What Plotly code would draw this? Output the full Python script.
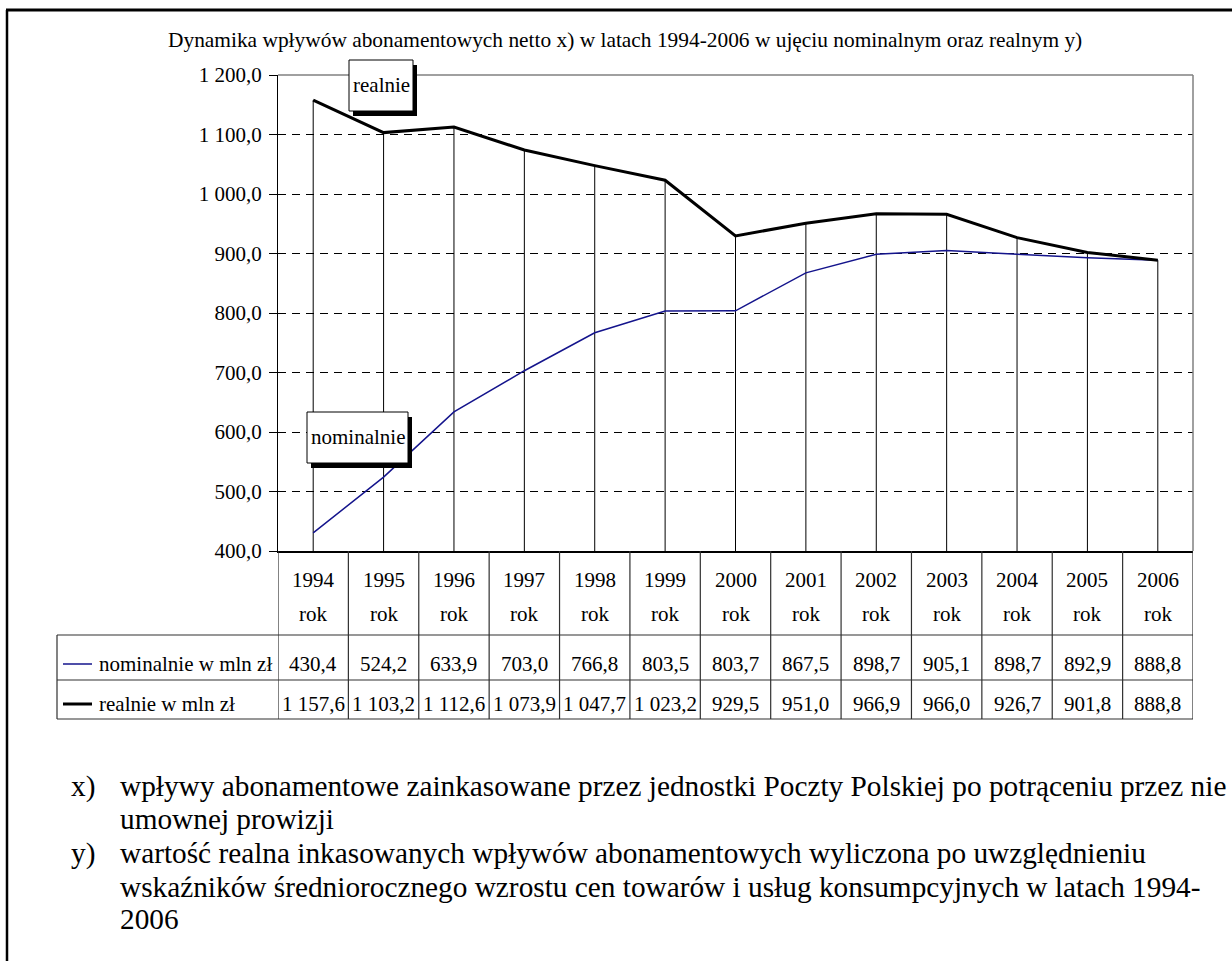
import plotly.graph_objects as go

years = ["1994", "1995", "1996", "1997", "1998", "1999", "2000",
         "2001", "2002", "2003", "2004", "2005", "2006"]
nominalnie = [430.4, 524.2, 633.9, 703.0, 766.8, 803.5, 803.7,
              867.5, 898.7, 905.1, 898.7, 892.9, 888.8]
realnie = [1157.6, 1103.2, 1112.6, 1073.9, 1047.7, 1023.2, 929.5,
           951.0, 966.9, 966.0, 926.7, 901.8, 888.8]
row_labels = ["nominalnie w mln zł", "realnie w mln zł"]
title = ("Dynamika wpływów abonamentowych netto x) w latach 1994-2006 "
         "w ujęciu nominalnym oraz realnym y)")
notes = [
    ("x)", ["wpływy abonamentowe zainkasowane przez jednostki Poczty Polskiej po potrąceniu przez nie",
            "umownej prowizji"]),
    ("y)", ["wartość realna inkasowanych wpływów abonamentowych wyliczona po uwzględnieniu",
            "wskaźników średniorocznego wzrostu cen towarów i usług konsumpcyjnych w latach 1994-",
            "2006"]),
]

W, H = 1232, 961
FONT = "Liberation Serif, Times New Roman, serif"
NAVY = "#14148c"


def px(x):
    return x / W


def py(y):
    return 1 - y / H


def fmt(v):
    return f"{v:,.1f}".replace(",", " ").replace(".", ",")


def label(x, y, text, font, xref="paper", xanchor="center"):
    return dict(xref=xref, yref="paper", x=x, y=py(y), text=text, showarrow=False,
                xanchor=xanchor, yanchor="middle", font=font)


fig = go.Figure()

# drop lines from the higher series down to the axis
drop_x, drop_y = [], []
for i, yr in enumerate(years):
    drop_x += [yr, yr, None]
    drop_y += [max(realnie[i], nominalnie[i]), 400, None]
fig.add_trace(go.Scatter(x=drop_x, y=drop_y, mode="lines",
                         line=dict(color="black", width=1), hoverinfo="skip"))

fig.add_trace(go.Scatter(x=years, y=nominalnie, mode="lines", name="nominalnie",
                         line=dict(color=NAVY, width=1.5)))
fig.add_trace(go.Scatter(x=years, y=realnie, mode="lines", name="realnie",
                         line=dict(color="black", width=3)))

shapes = []
ann = []

# plot frame (top / right in grey)
shapes.append(dict(type="line", xref="paper", yref="paper", x0=px(278), x1=px(1193),
                   y0=py(75), y1=py(75), line=dict(color="#808080", width=1.5)))
shapes.append(dict(type="line", xref="paper", yref="paper", x0=px(1193), x1=px(1193),
                   y0=py(75), y1=py(551), line=dict(color="#808080", width=1.5)))

# page frame
shapes.append(dict(type="line", xref="paper", yref="paper", x0=px(6), x1=1,
                   y0=py(10), y1=py(10), line=dict(color="black", width=3)))
shapes.append(dict(type="line", xref="paper", yref="paper", x0=px(7), x1=px(7),
                   y0=py(10), y1=0, line=dict(color="black", width=2.5)))

# data table grid
TBL = "#303030"
for yy in (635, 680, 719):
    shapes.append(dict(type="line", xref="paper", yref="paper", x0=px(57), x1=px(1193),
                       y0=py(yy), y1=py(yy), line=dict(color=TBL, width=1.2)))
shapes.append(dict(type="line", xref="paper", yref="paper", x0=px(57), x1=px(57),
                   y0=py(635), y1=py(719), line=dict(color=TBL, width=1.2)))
for i in range(len(years) + 1):
    shapes.append(dict(type="line", xref="x", yref="paper", x0=i - 0.5, x1=i - 0.5,
                       y0=py(551), y1=py(719), line=dict(color=TBL, width=1.2)))

# legend keys in the table
shapes.append(dict(type="line", xref="paper", yref="paper", x0=px(63), x1=px(92),
                   y0=py(664), y1=py(664), line=dict(color=NAVY, width=1.5)))
shapes.append(dict(type="line", xref="paper", yref="paper", x0=px(63), x1=px(92),
                   y0=py(704), y1=py(704), line=dict(color="black", width=3)))

tf = dict(family=FONT, size=21, color="black")
for i, yr in enumerate(years):
    ann.append(label(i, 580, yr, tf, xref="x"))
    ann.append(label(i, 614, "rok", tf, xref="x"))
    ann.append(label(i, 664, fmt(nominalnie[i]), tf, xref="x"))
    ann.append(label(i, 704, fmt(realnie[i]), tf, xref="x"))
for lab, yy in zip(row_labels, (664, 704)):
    ann.append(label(px(97), yy, lab, tf, xanchor="left"))

# series labels with shadow boxes
for text, (x0, y0, x1, y1) in [("realnie", (349, 60, 413, 111)),
                               ("nominalnie", (307, 412, 408, 463))]:
    shapes.append(dict(type="rect", xref="paper", yref="paper",
                       x0=px(x0 + 4), x1=px(x1 + 4), y0=py(y0 + 5), y1=py(y1 + 5),
                       fillcolor="black", line=dict(width=0)))
    shapes.append(dict(type="rect", xref="paper", yref="paper",
                       x0=px(x0), x1=px(x1), y0=py(y0), y1=py(y1),
                       fillcolor="white", line=dict(color="black", width=1)))
    ann.append(label(px((x0 + x1) / 2), (y0 + y1) / 2, text, tf))

# title
ann.append(label(px(625), 40, title, dict(family=FONT, size=21.4, color="black")))

# footnotes
nf = dict(family=FONT, size=29.3, color="black")
line_y = [786, 819, 853, 887, 919]
k = 0
for mark, lines in notes:
    ann.append(label(px(69), line_y[k], mark, nf, xanchor="left"))
    for ln in lines:
        ann.append(label(px(118), line_y[k], ln, nf, xanchor="left"))
        k += 1

fig.update_layout(
    width=W, height=H,
    autosize=False,
    margin=dict(l=0, r=0, t=0, b=0, pad=0),
    paper_bgcolor="white", plot_bgcolor="white",
    showlegend=False,
    separators=", ",
    shapes=shapes,
    annotations=ann,
    xaxis=dict(type="category", domain=[px(278), px(1193)], range=[-0.5, 12.5],
               showticklabels=False, showgrid=False, zeroline=False, automargin=False,
               showline=True, linecolor="black", linewidth=2, ticks=""),
    yaxis=dict(domain=[py(551), py(75)], range=[400, 1200], dtick=100, automargin=False,
               tickformat=",.1f", showline=True, linecolor="black", linewidth=1,
               ticks="outside", ticklen=8, tickcolor="black", ticklabelstandoff=3,
               showgrid=True, gridcolor="black", gridwidth=1, griddash="8px,6px",
               zeroline=False, tickfont=dict(family=FONT, size=21, color="black")),
)

fig.write_html(
    "out.html",
    config={"displayModeBar": False},
    post_script="document.body.style.margin='0px';document.body.style.overflow='hidden';",
)
